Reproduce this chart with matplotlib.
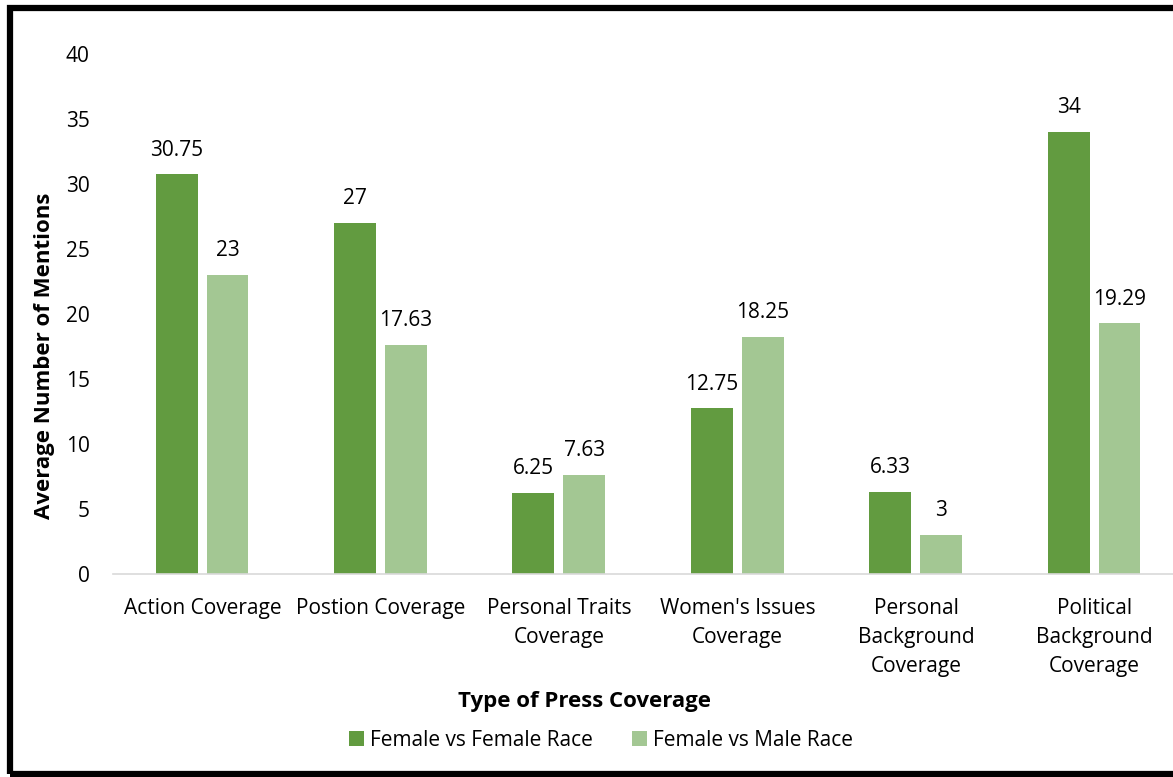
import numpy as np
import matplotlib.pyplot as plt
from matplotlib.patches import Rectangle

categories = ["Action Coverage", "Postion Coverage", "Personal Traits\nCoverage",
              "Women's Issues\nCoverage", "Personal\nBackground\nCoverage",
              "Political\nBackground\nCoverage"]
female_vs_female = [30.75, 27, 6.25, 12.75, 6.33, 34]
female_vs_male = [23, 17.63, 7.63, 18.25, 3, 19.29]
labels_ff = ["30.75", "27", "6.25", "12.75", "6.33", "34"]
labels_fm = ["23", "17.63", "7.63", "18.25", "3", "19.29"]

dark = "#629B40"
light = "#A3C793"
plt.rcParams['font.family'] = ['Open Sans', 'DejaVu Sans']

fig = plt.figure(figsize=(11.73, 7.77), dpi=100)
W, H = 1173, 777
ax = fig.add_axes([113.3 / W, 1 - 574 / H, 1070.4 / W, 520 / H])

x = np.arange(len(categories))
bw = 0.235
b1 = ax.bar(x - 0.145, female_vs_female, bw, color=dark, label="Female vs Female Race")
b2 = ax.bar(x + 0.14, female_vs_male, bw, color=light, label="Female vs Male Race")
for bars, labs in ((b1, labels_ff), (b2, labels_fm)):
    for r, t in zip(bars, labs):
        ax.text(r.get_x() + r.get_width() / 2, r.get_height() + 1.05, t,
                ha='center', va='bottom', fontsize=15, color='#000000')

ax.set_xlim(-0.5, 5.5)
ax.set_ylim(0, 40)
ax.set_yticks(range(0, 41, 5))
ax.set_xticks(x)
ax.set_xticklabels(categories, fontsize=15, linespacing=1.52)
ax.tick_params(axis='y', length=0, pad=17, labelsize=15)
ax.tick_params(axis='x', length=0, pad=17)
for s in ('top', 'right', 'left'):
    ax.spines[s].set_visible(False)
ax.spines['bottom'].set_color('#D9D9D9')
ax.spines['bottom'].set_linewidth(1.2)

fig.text(45 / W, 1 - 356 / H, "Average Number of Mentions", rotation=90,
         ha='center', va='center', fontsize=16, fontweight='bold')
fig.text(585 / W, 1 - 701 / H, "Type of Press Coverage",
         ha='center', va='center', fontsize=16, fontweight='bold')

fig.legend(handles=[b1, b2], loc='center', bbox_to_anchor=(601 / W, 1 - 740 / H),
           ncol=2, frameon=False, fontsize=15, handlelength=0.7, handleheight=0.7,
           handletextpad=0.3, columnspacing=1.9)

fig.patches.append(Rectangle((10 / W, 3 / H), 1.2, 1 - 11 / H, transform=fig.transFigure,
                             fill=False, edgecolor='black', linewidth=4.5, clip_on=False))

fig.savefig("out.png", dpi=100)
